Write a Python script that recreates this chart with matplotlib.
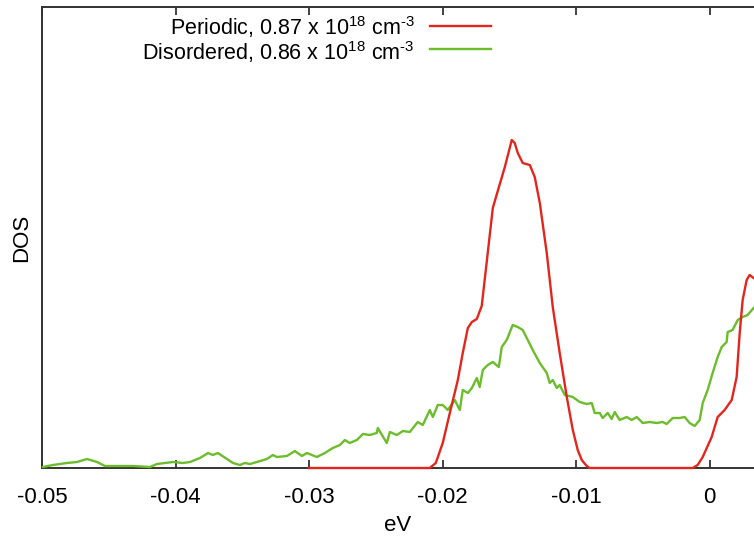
import matplotlib
matplotlib.use("Agg")
import matplotlib.pyplot as plt

plt.rcParams['font.family'] = ['Liberation Sans', 'DejaVu Sans']
plt.rcParams['mathtext.fontset'] = 'custom'
plt.rcParams['mathtext.rm'] = 'Liberation Sans'

# Periodic, 0.87 x 10^18 cm^-3
periodic_x = [-0.03, -0.02096, -0.02051, -0.01999, -0.01946, -0.01886, -0.01849, -0.01811,
              -0.01781, -0.01744, -0.01707, -0.01662, -0.01624, -0.01587, -0.01534, -0.01482,
              -0.01460, -0.01437, -0.01400, -0.01347, -0.01310, -0.01272, -0.01220, -0.01175,
              -0.01123, -0.01070, -0.01025, -0.00988, -0.00958, -0.00921, -0.00898, -0.00127,
              -0.00090, -0.00052, 0.00015, 0.00060, 0.00112, 0.00165, 0.00202, 0.00225,
              0.00247, 0.00277, 0.00299, 0.00329]
periodic_y = [0, 0, 5, 25, 55, 88, 115, 140,
              146, 149, 162, 215, 260, 277, 301, 328,
              325, 315, 305, 303, 291, 265, 215, 161,
              115, 71, 38, 18, 8, 2, 0, 0,
              3, 11, 31, 51, 58, 68, 91, 135,
              168, 188, 193, 190]

# Disordered, 0.86 x 10^18 cm^-3
disordered_x = [-0.04993, -0.04918, -0.04813, -0.04738, -0.04663, -0.04588, -0.04528, -0.04439,
                -0.04319, -0.04192, -0.04139, -0.04019, -0.03945, -0.03892, -0.03817, -0.03757,
                -0.03720, -0.03683, -0.03615, -0.03570, -0.03518, -0.03481, -0.03443, -0.03391,
                -0.03316, -0.03271, -0.03241, -0.03166, -0.03106, -0.03054, -0.03016, -0.02942,
                -0.02882, -0.02822, -0.02769, -0.02732, -0.02695, -0.02642, -0.02597, -0.02545,
                -0.02493, -0.02485, -0.02418, -0.02395, -0.02343, -0.02298, -0.02246, -0.02186,
                -0.02148, -0.02096, -0.02073, -0.02036, -0.01999, -0.01961, -0.01909, -0.01871,
                -0.01849, -0.01811, -0.01781, -0.01744, -0.01722, -0.01699, -0.01662, -0.01624,
                -0.01579, -0.01557, -0.01520, -0.01475, -0.01437, -0.01400, -0.01362, -0.01325,
                -0.01272, -0.01220, -0.01198, -0.01175, -0.01145, -0.01123, -0.01085, -0.01025,
                -0.00973, -0.00921, -0.00883, -0.00861, -0.00823, -0.00801, -0.00763, -0.00734,
                -0.00711, -0.00674, -0.00621, -0.00584, -0.00546, -0.00501, -0.00449, -0.00397,
                -0.00352, -0.00322, -0.00277, -0.00225, -0.00187, -0.00150, -0.00112, -0.00075,
                -0.00052, -0.00015, 0.00022, 0.00060, 0.00090, 0.00127, 0.00135, 0.00172,
                0.00210, 0.00247, 0.00284, 0.00329]
disordered_y = [1, 3, 5, 6, 9, 6, 2, 2,
                2, 1, 4, 6, 5, 6, 10, 15,
                13, 15, 9, 5, 3, 5, 4, 6,
                9, 13, 11, 12, 17, 12, 15, 11,
                15, 20, 23, 28, 25, 28, 34, 33,
                35, 40, 25, 36, 33, 37, 36, 46,
                43, 58, 51, 63, 63, 58, 68, 58,
                78, 75, 80, 90, 81, 98, 103, 106,
                101, 121, 128, 143, 141, 138, 128, 118,
                105, 95, 85, 88, 80, 83, 73, 71,
                66, 64, 65, 55, 55, 50, 55, 49,
                56, 48, 51, 48, 51, 45, 46, 45,
                46, 44, 50, 50, 51, 45, 42, 48,
                65, 78, 95, 111, 121, 126, 136, 138,
                148, 151, 153, 160]

labels = ['Periodic, 0.87 x 10$^{\\mathregular{18}}$ cm$^{\\mathregular{\u20103}}$',
          'Disordered, 0.86 x 10$^{\\mathregular{18}}$ cm$^{\\mathregular{\u20103}}$']
colors = ['#e3261c', '#6bbd2c']
xticks = [-0.05, -0.04, -0.03, -0.02, -0.01, 0]
xticklabels = ['-0.05', '-0.04', '-0.03', '-0.02', '-0.01', '0']

W, H = 754, 536
fig = plt.figure(figsize=(W / 100, H / 100), dpi=100)
ax = fig.add_axes([42 / W, (H - 468) / H, (W - 42) / W, (468 - 7) / H])

ax.plot(periodic_x, periodic_y, color=colors[0], lw=1.7, zorder=4, clip_on=False)
ax.plot(disordered_x, disordered_y, color=colors[1], lw=1.7, zorder=3, clip_on=False)

ax.set_xlim(-0.05, 0.00332)
ax.set_ylim(0, 461)
ax.set_xticks(xticks)
ax.set_xticklabels(xticklabels)
ax.set_yticks([])
ax.tick_params(axis='x', direction='in', length=6, width=1.2, top=True, bottom=True,
               labelsize=16, pad=14, color='#222222')
ax.spines['right'].set_visible(False)
for s in ['left', 'top', 'bottom']:
    ax.spines[s].set_linewidth(1.4)
    ax.spines[s].set_color('#333333')
ax.set_xlabel('eV', fontsize=16, labelpad=5)
ax.set_ylabel('DOS', fontsize=16, labelpad=7)

# legend (drawn manually, right-aligned text with sample lines)
leg_rows_text_y = [0.939, 0.886]
leg_rows_line_y = [0.959, 0.909]
for lab, col, ty, ly in zip(labels, colors, leg_rows_text_y, leg_rows_line_y):
    ax.text(0.524, ty, lab, transform=ax.transAxes, ha='right', va='baseline', fontsize=15.5)
    ax.plot([0.545, 0.6306], [ly, ly], transform=ax.transAxes, color=col, lw=1.7)

fig.savefig('out.png', dpi=100)
